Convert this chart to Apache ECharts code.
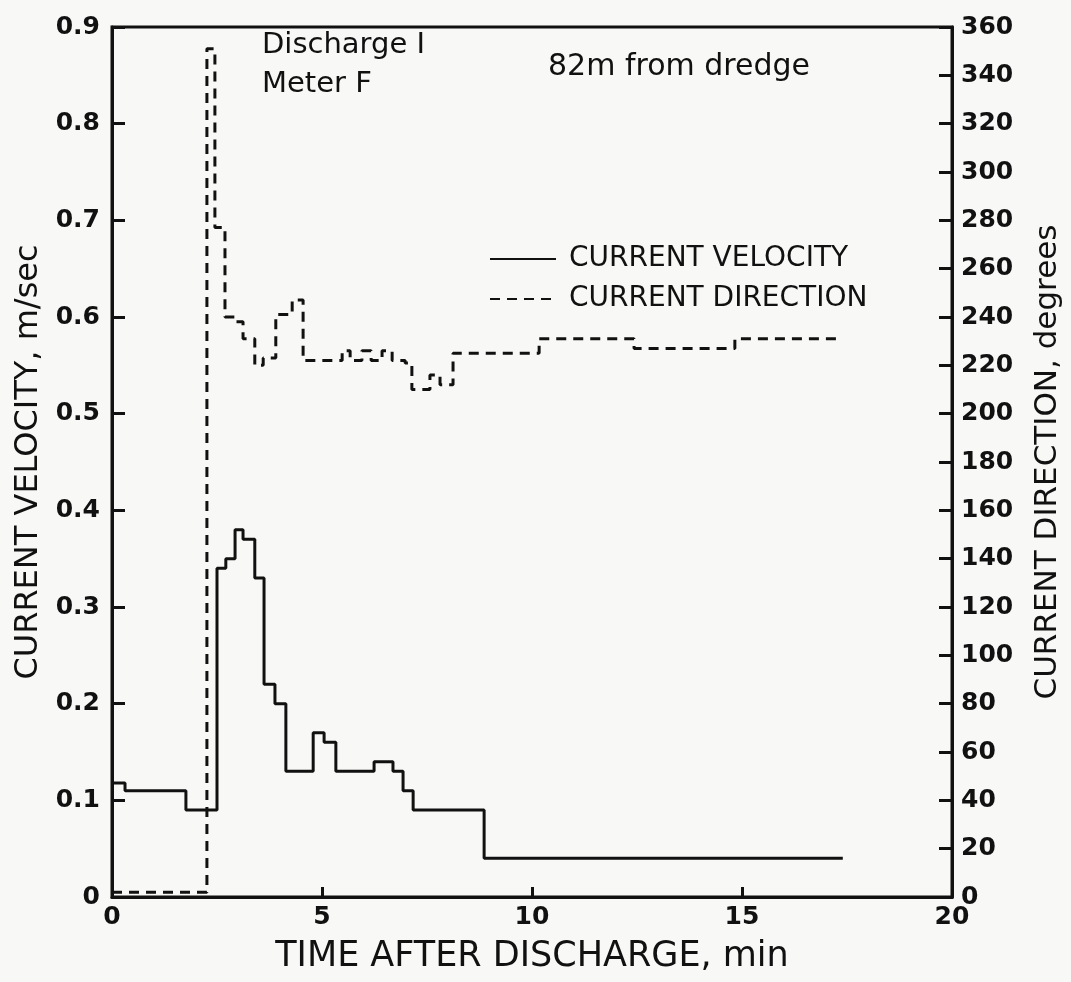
<!DOCTYPE html>
<html>
<head>
<meta charset="utf-8">
<title>Discharge I - Meter F</title>
<script src="https://cdn.jsdelivr.net/npm/echarts@6/dist/echarts.min.js"></script>
<style>
  html, body { margin: 0; padding: 0; background: #f8f8f6; }
  #chart { width: 1071px; height: 982px; }
</style>
</head>
<body>
<div id="chart"></div>
<script>
// Time (min) at which each velocity step begins, and the velocity held (m/sec)
const velTime = [0, 0.31, 1.76, 2.50, 2.71, 2.93, 3.12, 3.40, 3.62, 3.88, 4.14, 4.79, 5.05, 5.33, 6.24, 6.69, 6.93, 7.17, 8.86, 17.4];
const velocity = [0.118, 0.11, 0.09, 0.34, 0.35, 0.38, 0.37, 0.33, 0.22, 0.20, 0.13, 0.17, 0.16, 0.13, 0.14, 0.13, 0.11, 0.09, 0.04, 0.04];

// Time (min) at which each direction step begins, and the direction held (degrees)
const dirTime = [0, 2.26, 2.45, 2.69, 2.93, 3.12, 3.40, 3.60, 3.90, 4.29, 4.55, 5.48, 5.67, 5.95, 6.17, 6.43, 6.67, 6.98, 7.14, 7.57, 7.81, 8.12, 10.17, 12.43, 14.83, 17.4];
const direction = [2, 351, 277, 240, 238, 231, 220, 223, 241, 247, 222, 226, 222, 226, 222, 226, 222, 221, 210, 216, 212, 225, 231, 227, 231, 231];

// Axis ticks
const timeTicks = [0, 5, 10, 15, 20];
const velTicks = [0, 0.1, 0.2, 0.3, 0.4, 0.5, 0.6, 0.7, 0.8, 0.9];
const dirTicks = [0, 20, 40, 60, 80, 100, 120, 140, 160, 180, 200, 220, 240, 260, 280, 300, 320, 340, 360];

const INK = '#111';
const FONT = 'DejaVu Sans';

const velData = velTime.map((t, i) => [t, velocity[i]]);
const dirData = dirTime.map((t, i) => [t, direction[i]]);

const tickLabel = { fontFamily: FONT, fontSize: 25, fontWeight: 'bold', color: INK };
const titleText = { fontFamily: FONT, color: INK };

const chart = echarts.init(document.getElementById('chart'), null, { renderer: 'canvas' });

chart.setOption({
  backgroundColor: '#f8f8f6',
  animation: false,
  textStyle: { fontFamily: FONT, color: INK },
  grid: {
    left: 112, right: 118, top: 27, bottom: 85,
    show: true, borderColor: INK, borderWidth: 3, backgroundColor: 'transparent'
  },
  legend: {
    left: 484, top: 240, orient: 'vertical',
    itemWidth: 66, itemHeight: 16, itemGap: 12,
    itemStyle: { opacity: 0 },
    textStyle: { fontFamily: FONT, fontSize: 28, color: INK, padding: [0, 0, 0, 8] },
    data: ['CURRENT VELOCITY', 'CURRENT DIRECTION']
  },
  xAxis: {
    type: 'value', min: timeTicks[0], max: timeTicks[timeTicks.length - 1], interval: 5,
    name: 'TIME AFTER DISCHARGE, min', nameLocation: 'middle', nameGap: 42,
    nameTextStyle: Object.assign({ fontSize: 35 }, titleText),
    axisLine: { lineStyle: { color: INK, width: 3 } },
    axisTick: { inside: true, length: 10, lineStyle: { color: INK, width: 3 } },
    axisLabel: Object.assign({ margin: 8 }, tickLabel),
    splitLine: { show: false }
  },
  yAxis: [
    {
      type: 'value', position: 'left', min: velTicks[0], max: velTicks[velTicks.length - 1], interval: 0.1,
      name: 'CURRENT VELOCITY, m/sec', nameLocation: 'middle', nameGap: 63, nameRotate: 90,
      nameTextStyle: Object.assign({ fontSize: 32 }, titleText),
      axisLine: { show: true, lineStyle: { color: INK, width: 3 } },
      axisTick: { show: true, inside: true, length: 13, lineStyle: { color: INK, width: 3 } },
      axisLabel: Object.assign({ margin: 12, formatter: v => (v === 0 ? '0' : v.toFixed(1)) }, tickLabel),
      splitLine: { show: false }
    },
    {
      type: 'value', position: 'right', min: dirTicks[0], max: dirTicks[dirTicks.length - 1], interval: 20,
      name: 'CURRENT DIRECTION, degrees', nameLocation: 'middle', nameGap: 80, nameRotate: 90,
      nameTextStyle: Object.assign({ fontSize: 31 }, titleText),
      axisLine: { show: true, lineStyle: { color: INK, width: 3 } },
      axisTick: { show: true, inside: true, length: 13, lineStyle: { color: INK, width: 3 } },
      axisLabel: Object.assign({ margin: 9 }, tickLabel),
      splitLine: { show: false }
    }
  ],
  series: [
    {
      name: 'CURRENT VELOCITY', type: 'line', yAxisIndex: 0, step: 'end',
      data: velData, symbol: 'none',
      lineStyle: { color: INK, width: 3 }, itemStyle: { color: INK }
    },
    {
      name: 'CURRENT DIRECTION', type: 'line', yAxisIndex: 1, step: 'end',
      data: dirData, symbol: 'none',
      lineStyle: { color: INK, width: 3, type: [10, 7] }, itemStyle: { color: INK }
    }
  ],
  graphic: [
    { type: 'text', left: 262, top: 31, style: { text: 'Discharge I', font: '29px "DejaVu Sans"', fill: INK } },
    { type: 'text', left: 262, top: 70, style: { text: 'Meter F', font: '29px "DejaVu Sans"', fill: INK } },
    { type: 'text', left: 548, top: 52, style: { text: '82m from dredge', font: '30px "DejaVu Sans"', fill: INK } }
  ]
});
</script>
</body>
</html>
